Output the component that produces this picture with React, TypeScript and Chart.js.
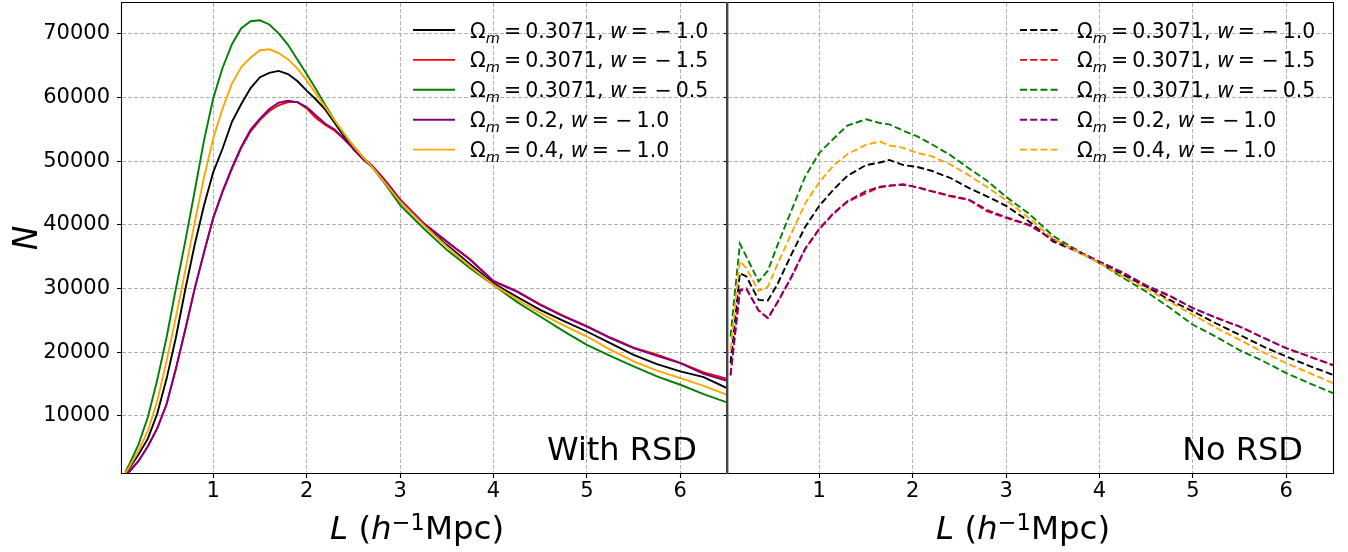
import React, { useEffect, useRef } from "react";
import { Chart, registerables } from "chart.js";

Chart.register(...registerables);

// ---------- data ----------
const L_LEFT = [
  0.06, 0.1, 0.2, 0.3, 0.4, 0.5, 0.6, 0.7, 0.8, 0.9,
  1.0, 1.1, 1.2, 1.3, 1.4, 1.5, 1.6, 1.7, 1.8, 1.9,
  2.0, 2.1, 2.2, 2.3, 2.4, 2.5, 2.6, 2.7, 2.8, 2.9,
  3.0, 3.25, 3.5, 3.75, 4.0, 4.25, 4.5, 4.75, 5.0, 5.25,
  5.5, 5.75, 6.0, 6.25, 6.5,
];

const L_RIGHT = [
  0.05, 0.15, 0.22, 0.35, 0.45, 0.55, 0.7, 0.85, 1.0, 1.15,
  1.3, 1.5, 1.65, 1.75, 1.9, 2.05, 2.2, 2.4, 2.6, 2.8,
  3.0, 3.25, 3.5, 3.75, 4.0, 4.25, 4.5, 4.75, 5.0, 5.25,
  5.5, 5.75, 6.0, 6.25, 6.5,
];

// With RSD
const RSD_OM3071_WM10 = [
  900, 1700, 3900, 6400, 10300, 15800, 22300, 29800, 36800, 43000,
  48300, 52000, 56200, 59000, 61500, 63200, 63900, 64200, 63700, 62600,
  61100, 59700, 58100, 56000, 53900, 51900, 50400, 49100, 47600, 45500,
  43670, 40100, 36860, 33800, 30820, 28700, 26640, 24900, 23240, 21410,
  19580, 18100, 16960, 16070, 14350,
];
const RSD_OM3071_WM15 = [
  700, 1200, 2900, 5200, 8000, 11800, 17400, 23500, 29900, 35600,
  41100, 45200, 48800, 52100, 54700, 56500, 57900, 58800, 59300, 59300,
  58300, 56800, 55700, 54800, 53500, 52000, 50500, 49300, 47700, 45900,
  44000, 40300, 37400, 34600, 31200, 29600, 27500, 25700, 24100, 22300,
  20700, 19600, 18300, 16800, 15800,
];
const RSD_OM3071_WM05 = [
  1200, 2300, 5500, 9800, 15600, 22300, 30000, 37400, 45200, 53200,
  59900, 64700, 68400, 70900, 72000, 72150, 71500, 70100, 68300, 66000,
  63700, 61300, 58800, 56400, 54200, 52400, 50700, 49100, 47200, 45200,
  43100, 39470, 36070, 33190, 30570, 27900, 25600, 23300, 21150, 19400,
  17750, 16200, 14870, 13400, 12090,
];
const RSD_OM02_WM10 = [
  700, 1200, 2900, 5200, 8000, 11800, 17400, 23500, 29900, 35600,
  41100, 45300, 49000, 52300, 55000, 56700, 58200, 59200, 59500, 59300,
  58500, 57200, 55900, 55000, 53500, 52000, 50500, 49300, 47600, 45800,
  43930, 40260, 37380, 34500, 31100, 29510, 27400, 25600, 24020, 22190,
  20620, 19400, 18260, 16600, 15500,
];
const RSD_OM04_WM10 = [
  1000, 1900, 4500, 7600, 12300, 18600, 25500, 32800, 40300, 47400,
  53600, 58300, 62200, 64800, 66300, 67450, 67600, 67000, 66000, 64600,
  62700, 60600, 58500, 56400, 54400, 52400, 50700, 49100, 47300, 45500,
  43670, 40000, 36600, 33500, 30570, 28300, 26130, 24200, 22450, 20400,
  18530, 17100, 15910, 14700, 13300,
];

// No RSD
const NORSD_OM3071_WM10 = [
  18270, 32400, 31900, 28200, 28100, 30600, 35300, 39700, 43000, 45500,
  47700, 49400, 49800, 50200, 49400, 49100, 48500, 47400, 45800, 44450,
  43000, 40500, 37400, 35900, 34100, 32200, 30300, 28200, 26400, 24500,
  22720, 20900, 19310, 17800, 16440,
];
const NORSD_OM3071_WM15 = [
  16300, 29600, 30000, 26500, 25300, 27700, 31700, 36200, 39300, 41700,
  43600, 45000, 45900, 46100, 46400, 45900, 45300, 44500, 43900, 42100,
  41100, 39900, 37700, 36000, 34200, 32500, 30500, 28900, 26900, 25400,
  24000, 22300, 20600, 19300, 17900,
];
const NORSD_OM3071_WM05 = [
  22450, 37030, 35000, 31100, 32800, 36700, 42200, 47600, 51300, 53500,
  55600, 56600, 56000, 55800, 54800, 53900, 52700, 51000, 48900, 46900,
  44400, 41700, 38300, 36100, 33990, 31700, 29500, 27000, 24300, 22400,
  20300, 18600, 16700, 15100, 13560,
];
const NORSD_OM02_WM10 = [
  16440, 29800, 29900, 26600, 25360, 27800, 31800, 36300, 39400, 41800,
  43700, 45300, 46000, 46200, 46300, 45900, 45300, 44600, 44000, 42300,
  41200, 40000, 37700, 36000, 34240, 32500, 30400, 28800, 26920, 25400,
  24020, 22300, 20620, 19300, 18000,
];
const NORSD_OM04_WM10 = [
  20360, 34300, 33200, 29600, 30300, 33700, 38600, 43400, 46700, 49300,
  51100, 52600, 53100, 52500, 52100, 51300, 50800, 49500, 47800, 45900,
  43900, 41000, 37900, 35900, 33990, 31900, 30000, 27900, 25860, 23800,
  21940, 20000, 18270, 16700, 15120,
];

const X_TICKS = [1, 2, 3, 4, 5, 6];
const Y_TICKS = [10000, 20000, 30000, 40000, 50000, 60000, 70000];

const SERIES_OM = ["0.3071", "0.3071", "0.3071", "0.2", "0.4"];
const SERIES_W = ["− 1.0", "− 1.5", "− 0.5", "− 1.0", "− 1.0"];
const COLORS = ["#000000", "#ff0000", "#008000", "#800080", "#ffa500"];

const RSD_SERIES = [RSD_OM3071_WM10, RSD_OM3071_WM15, RSD_OM3071_WM05, RSD_OM02_WM10, RSD_OM04_WM10];
const NORSD_SERIES = [NORSD_OM3071_WM10, NORSD_OM3071_WM15, NORSD_OM3071_WM05, NORSD_OM02_WM10, NORSD_OM04_WM10];

// ---------- styling ----------
const FF = "'DejaVu Sans', sans-serif";
const X_MIN = 0.023;
const X_MAX = 6.5;
const Y_MIN = 1000;
const Y_MAX = 74870;
const GRID = "#b0b0b0";
const TS = "\u2009"; // thin space

type Seg = { t: string; font: string; dy?: number };

function drawSegs(ctx: CanvasRenderingContext2D, segs: Seg[], x: number, y: number, align: "left" | "center" | "right") {
  ctx.save();
  ctx.textBaseline = "alphabetic";
  ctx.textAlign = "left";
  ctx.fillStyle = "#000";
  let total = 0;
  const ws = segs.map((s) => {
    ctx.font = s.font;
    const w = ctx.measureText(s.t).width;
    total += w;
    return w;
  });
  let cx = align === "left" ? x : align === "center" ? x - total / 2 : x - total;
  segs.forEach((s, i) => {
    ctx.font = s.font;
    ctx.fillText(s.t, cx, y + (s.dy || 0));
    cx += ws[i];
  });
  ctx.restore();
}

function legendSegs(i: number): Seg[] {
  const n = `20.5px ${FF}`;
  const it = `italic 20.5px ${FF}`;
  return [
    { t: "Ω", font: n },
    { t: "m", font: `italic 14.5px ${FF}`, dy: 5 },
    { t: TS + "=" + TS + SERIES_OM[i] + ", ", font: n },
    { t: "w", font: it },
    { t: TS + "= " + SERIES_W[i].replace(" ", TS), font: n },
  ];
}

function xTitleSegs(): Seg[] {
  return [
    { t: "L", font: `italic 32.5px ${FF}` },
    { t: " (", font: `32.5px ${FF}` },
    { t: "h", font: `italic 32.5px ${FF}` },
    { t: "−1", font: `22.5px ${FF}`, dy: -8.5 },
    { t: "Mpc)", font: `32.5px ${FF}` },
  ];
}

function makeChart(canvas: HTMLCanvasElement, side: "left" | "right") {
  const isLeft = side === "left";
  const xs = isLeft ? L_LEFT : L_RIGHT;
  const series = isLeft ? RSD_SERIES : NORSD_SERIES;
  const offset = isLeft ? 0 : 720; // page x of canvas

  const datasets = series.map((vals, i) => ({
    label: `Ωm = ${SERIES_OM[i]}, w = ${SERIES_W[i]}`,
    data: xs.map((x, j) => ({ x, y: vals[j] })),
    borderColor: COLORS[i],
    backgroundColor: COLORS[i],
    borderWidth: 1.9,
    borderDash: isLeft ? [] : [7, 3.2],
    pointRadius: 0,
    tension: 0,
    fill: false,
    order: 5 - i,
  }));

  const deco = {
    id: "deco" + side,
    afterDraw(chart: any) {
      const ctx: CanvasRenderingContext2D = chart.ctx;
      const a = chart.chartArea;
      ctx.save();
      // frame
      ctx.strokeStyle = "#000";
      ctx.lineWidth = 1.1;
      ctx.beginPath();
      if (isLeft) {
        ctx.moveTo(a.right, 2.5);
        ctx.lineTo(121.5, 2.5);
        ctx.lineTo(121.5, 473.5);
        ctx.lineTo(a.right, 473.5);
      } else {
        ctx.moveTo(a.left, 2.5);
        ctx.lineTo(1333.5 - offset, 2.5);
        ctx.lineTo(1333.5 - offset, 473.5);
        ctx.lineTo(a.left, 473.5);
      }
      ctx.stroke();
      if (!isLeft) {
        ctx.strokeStyle = "#454545";
        ctx.lineWidth = 2.4;
        ctx.beginPath();
        ctx.moveTo(727.2 - offset, 2);
        ctx.lineTo(727.2 - offset, 474);
        ctx.stroke();
      }
      // legend
      const lineX0 = (isLeft ? 413 : 1020) - offset;
      const lineX1 = (isLeft ? 455 : 1060) - offset;
      const textX = (isLeft ? 470 : 1077) - offset;
      for (let i = 0; i < 5; i++) {
        const cy = 30 + 29.9 * i;
        ctx.strokeStyle = COLORS[i];
        ctx.lineWidth = 1.9;
        ctx.setLineDash(isLeft ? [] : [7, 3.2]);
        ctx.beginPath();
        ctx.moveTo(lineX0, cy);
        ctx.lineTo(lineX1, cy);
        ctx.stroke();
        ctx.setLineDash([]);
        drawSegs(ctx, legendSegs(i), textX, cy + 7.5, "left");
      }
      // panel label
      ctx.fillStyle = "#000";
      ctx.font = `32px ${FF}`;
      ctx.textAlign = "right";
      ctx.textBaseline = "alphabetic";
      ctx.fillText(isLeft ? "With RSD" : "No RSD", (isLeft ? 697 : 1303) - offset, 459.5);
      // x title
      drawSegs(ctx, xTitleSegs(), (isLeft ? 330 : 936) - offset, 538.5, "left");
      // y title
      if (isLeft) {
        ctx.save();
        ctx.translate(37, 238);
        ctx.rotate(-Math.PI / 2);
        ctx.font = `italic 33px ${FF}`;
        ctx.textAlign = "center";
        ctx.textBaseline = "alphabetic";
        ctx.fillText("N", 0, 0);
        ctx.restore();
      }
      ctx.restore();
    },
  };

  return new Chart(canvas, {
    type: "line",
    data: { datasets } as any,
    options: {
      responsive: false,
      animation: false,
      devicePixelRatio: 1,
      layout: { padding: { left: 0, right: isLeft ? 13 : 15, top: 3, bottom: 0 } },
      plugins: {
        legend: { display: false },
        tooltip: { enabled: false },
        title: { display: false },
      },
      scales: {
        x: {
          type: "linear",
          min: X_MIN,
          max: X_MAX,
          afterBuildTicks: (s: any) => {
            s.ticks = X_TICKS.map((v) => ({ value: v }));
          },
          afterFit: (s: any) => {
            s.height = 79;
            s.paddingLeft = 0;
            s.paddingRight = 0;
          },
          grid: {
            color: GRID,
            lineWidth: 1,
            drawTicks: true,
            tickLength: 5,
            tickColor: "#000",
            tickWidth: 1.1,
            tickBorderDash: [],
          },
          border: { display: false, dash: [4, 2] },
          ticks: {
            color: "#000",
            font: { family: FF, size: 21 },
            padding: 1,
            maxRotation: 0,
            autoSkip: false,
            callback: (v: any) => String(v),
          },
        },
        y: {
          type: "linear",
          min: Y_MIN,
          max: Y_MAX,
          afterBuildTicks: (s: any) => {
            s.ticks = Y_TICKS.map((v) => ({ value: v }));
          },
          afterFit: (s: any) => {
            s.width = isLeft ? 122 : 8;
            s.paddingTop = 0;
            s.paddingBottom = 0;
          },
          grid: {
            color: GRID,
            lineWidth: 1,
            drawTicks: true,
            tickLength: isLeft ? 5 : 4,
            tickColor: "#000",
            tickWidth: 1.1,
            tickBorderDash: [],
          },
          border: { display: false, dash: [4, 2] },
          ticks: {
            display: isLeft,
            color: "#000",
            font: { family: FF, size: 21 },
            padding: 7,
            autoSkip: false,
            callback: (v: any) => String(v),
          },
        },
      },
    } as any,
    plugins: [deco],
  });
}

export default function App() {
  const leftRef = useRef<HTMLCanvasElement>(null);
  const rightRef = useRef<HTMLCanvasElement>(null);

  useEffect(() => {
    const c1 = makeChart(leftRef.current!, "left");
    const c2 = makeChart(rightRef.current!, "right");
    return () => {
      c1.destroy();
      c2.destroy();
    };
  }, []);

  return (
    <div style={{ position: "absolute", left: 0, top: 0, width: 1348, height: 552, background: "#fff", overflow: "hidden" }}>
      <canvas ref={leftRef} width={740} height={552} style={{ position: "absolute", left: 0, top: 0, width: 740, height: 552 }} />
      <canvas ref={rightRef} width={628} height={552} style={{ position: "absolute", left: 720, top: 0, width: 628, height: 552 }} />
    </div>
  );
}
